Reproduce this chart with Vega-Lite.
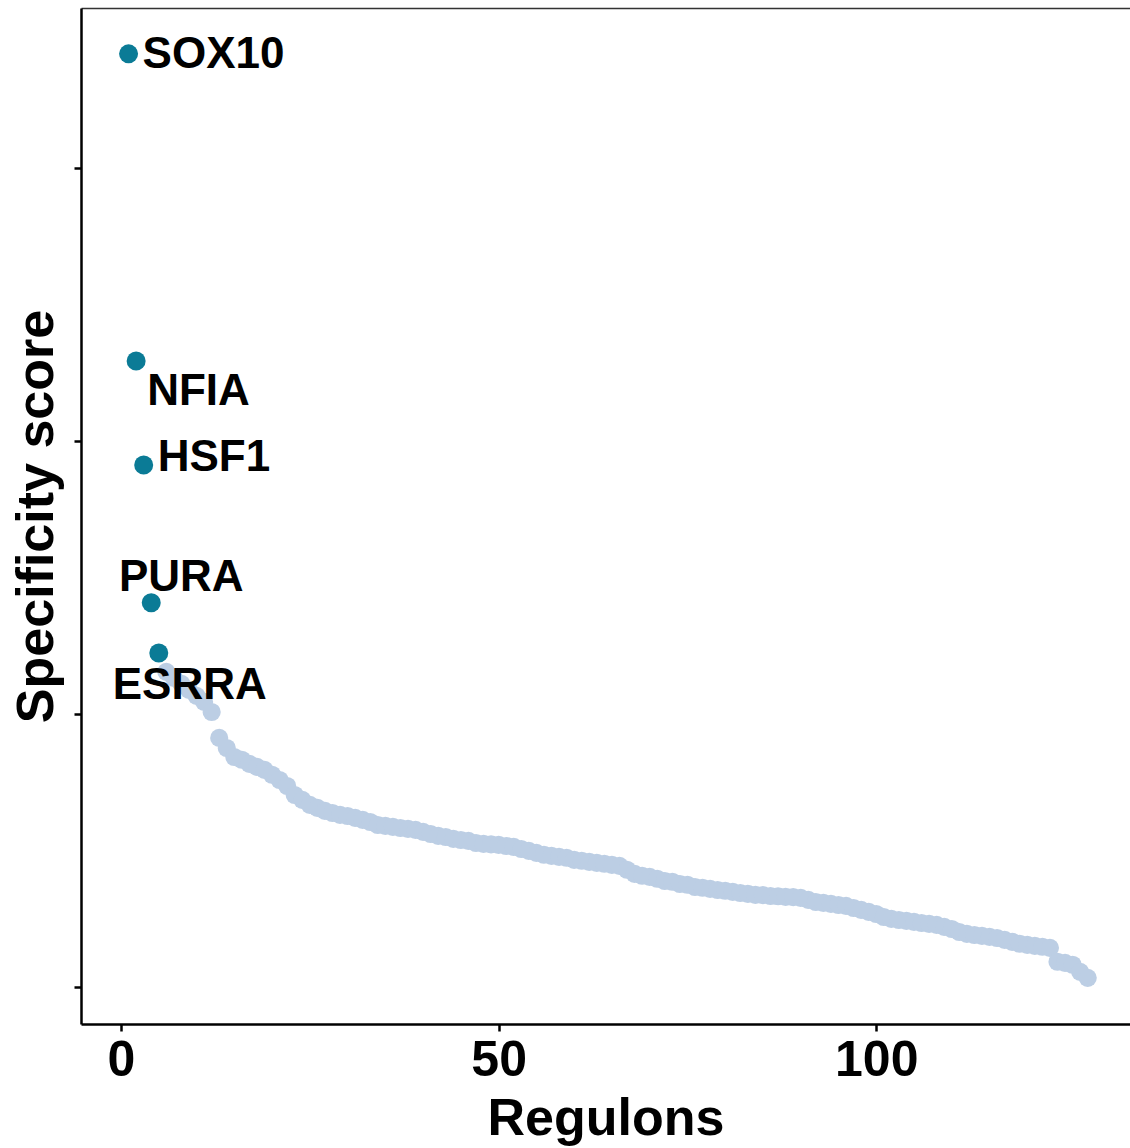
{
  "$schema": "https://vega.github.io/schema/vega-lite/v6.json",
  "autosize": "none",
  "width": 1049,
  "height": 1016,
  "padding": {"left": 81, "top": 8, "right": 0, "bottom": 124},
  "background": "white",
  "config": {
    "font": "Liberation Sans",
    "view": {"stroke": null},
    "axis": {
      "grid": false,
      "domainColor": "black",
      "domainWidth": 2.5,
      "tickColor": "black",
      "tickWidth": 2.5,
      "tickSize": 7,
      "labelColor": "black",
      "labelFont": "Liberation Sans",
      "labelFontWeight": "bold",
      "labelFontSize": 50,
      "titleFont": "Liberation Sans",
      "titleFontWeight": "bold",
      "titleFontSize": 52,
      "titleColor": "black"
    }
  },
  "data": {
    "values": [
      {"rank": 1, "score": 0.5418, "regulon": "SOX10", "top": true},
      {"rank": 2, "score": 0.4293, "regulon": "NFIA", "top": true},
      {"rank": 3, "score": 0.3912, "regulon": "HSF1", "top": true},
      {"rank": 4, "score": 0.3407, "regulon": "PURA", "top": true},
      {"rank": 5, "score": 0.3223, "regulon": "ESRRA", "top": true},
      {"rank": 6, "score": 0.3154, "top": false},
      {"rank": 7, "score": 0.3132, "top": false},
      {"rank": 8, "score": 0.3110, "top": false},
      {"rank": 9, "score": 0.3088, "top": false},
      {"rank": 10, "score": 0.3066, "top": false},
      {"rank": 11, "score": 0.3044, "top": false},
      {"rank": 12, "score": 0.3007, "top": false},
      {"rank": 13, "score": 0.2912, "top": false},
      {"rank": 14, "score": 0.2875, "top": false},
      {"rank": 15, "score": 0.2842, "top": false},
      {"rank": 16, "score": 0.2832, "top": false},
      {"rank": 17, "score": 0.2817, "top": false},
      {"rank": 18, "score": 0.2806, "top": false},
      {"rank": 19, "score": 0.2795, "top": false},
      {"rank": 20, "score": 0.2777, "top": false},
      {"rank": 21, "score": 0.2758, "top": false},
      {"rank": 22, "score": 0.2736, "top": false},
      {"rank": 23, "score": 0.2703, "top": false},
      {"rank": 24, "score": 0.2685, "top": false},
      {"rank": 25, "score": 0.2667, "top": false},
      {"rank": 26, "score": 0.2656, "top": false},
      {"rank": 27, "score": 0.2645, "top": false},
      {"rank": 28, "score": 0.2637, "top": false},
      {"rank": 29, "score": 0.2630, "top": false},
      {"rank": 30, "score": 0.2626, "top": false},
      {"rank": 31, "score": 0.2619, "top": false},
      {"rank": 32, "score": 0.2612, "top": false},
      {"rank": 33, "score": 0.2604, "top": false},
      {"rank": 34, "score": 0.2593, "top": false},
      {"rank": 35, "score": 0.2590, "top": false},
      {"rank": 36, "score": 0.2586, "top": false},
      {"rank": 37, "score": 0.2582, "top": false},
      {"rank": 38, "score": 0.2579, "top": false},
      {"rank": 39, "score": 0.2575, "top": false},
      {"rank": 40, "score": 0.2568, "top": false},
      {"rank": 41, "score": 0.2560, "top": false},
      {"rank": 42, "score": 0.2553, "top": false},
      {"rank": 43, "score": 0.2549, "top": false},
      {"rank": 44, "score": 0.2542, "top": false},
      {"rank": 45, "score": 0.2538, "top": false},
      {"rank": 46, "score": 0.2535, "top": false},
      {"rank": 47, "score": 0.2527, "top": false},
      {"rank": 48, "score": 0.2524, "top": false},
      {"rank": 49, "score": 0.2522, "top": false},
      {"rank": 50, "score": 0.2520, "top": false},
      {"rank": 51, "score": 0.2516, "top": false},
      {"rank": 52, "score": 0.2513, "top": false},
      {"rank": 53, "score": 0.2505, "top": false},
      {"rank": 54, "score": 0.2498, "top": false},
      {"rank": 55, "score": 0.2491, "top": false},
      {"rank": 56, "score": 0.2484, "top": false},
      {"rank": 57, "score": 0.2480, "top": false},
      {"rank": 58, "score": 0.2476, "top": false},
      {"rank": 59, "score": 0.2473, "top": false},
      {"rank": 60, "score": 0.2465, "top": false},
      {"rank": 61, "score": 0.2462, "top": false},
      {"rank": 62, "score": 0.2458, "top": false},
      {"rank": 63, "score": 0.2454, "top": false},
      {"rank": 64, "score": 0.2451, "top": false},
      {"rank": 65, "score": 0.2447, "top": false},
      {"rank": 66, "score": 0.2443, "top": false},
      {"rank": 67, "score": 0.2429, "top": false},
      {"rank": 68, "score": 0.2414, "top": false},
      {"rank": 69, "score": 0.2407, "top": false},
      {"rank": 70, "score": 0.2403, "top": false},
      {"rank": 71, "score": 0.2396, "top": false},
      {"rank": 72, "score": 0.2388, "top": false},
      {"rank": 73, "score": 0.2385, "top": false},
      {"rank": 74, "score": 0.2377, "top": false},
      {"rank": 75, "score": 0.2374, "top": false},
      {"rank": 76, "score": 0.2366, "top": false},
      {"rank": 77, "score": 0.2363, "top": false},
      {"rank": 78, "score": 0.2359, "top": false},
      {"rank": 79, "score": 0.2355, "top": false},
      {"rank": 80, "score": 0.2352, "top": false},
      {"rank": 81, "score": 0.2348, "top": false},
      {"rank": 82, "score": 0.2344, "top": false},
      {"rank": 83, "score": 0.2341, "top": false},
      {"rank": 84, "score": 0.2337, "top": false},
      {"rank": 85, "score": 0.2336, "top": false},
      {"rank": 86, "score": 0.2333, "top": false},
      {"rank": 87, "score": 0.2332, "top": false},
      {"rank": 88, "score": 0.2330, "top": false},
      {"rank": 89, "score": 0.2329, "top": false},
      {"rank": 90, "score": 0.2326, "top": false},
      {"rank": 91, "score": 0.2319, "top": false},
      {"rank": 92, "score": 0.2311, "top": false},
      {"rank": 93, "score": 0.2308, "top": false},
      {"rank": 94, "score": 0.2304, "top": false},
      {"rank": 95, "score": 0.2300, "top": false},
      {"rank": 96, "score": 0.2297, "top": false},
      {"rank": 97, "score": 0.2289, "top": false},
      {"rank": 98, "score": 0.2282, "top": false},
      {"rank": 99, "score": 0.2275, "top": false},
      {"rank": 100, "score": 0.2267, "top": false},
      {"rank": 101, "score": 0.2256, "top": false},
      {"rank": 102, "score": 0.2249, "top": false},
      {"rank": 103, "score": 0.2245, "top": false},
      {"rank": 104, "score": 0.2242, "top": false},
      {"rank": 105, "score": 0.2238, "top": false},
      {"rank": 106, "score": 0.2234, "top": false},
      {"rank": 107, "score": 0.2231, "top": false},
      {"rank": 108, "score": 0.2227, "top": false},
      {"rank": 109, "score": 0.2220, "top": false},
      {"rank": 110, "score": 0.2212, "top": false},
      {"rank": 111, "score": 0.2201, "top": false},
      {"rank": 112, "score": 0.2194, "top": false},
      {"rank": 113, "score": 0.2190, "top": false},
      {"rank": 114, "score": 0.2187, "top": false},
      {"rank": 115, "score": 0.2183, "top": false},
      {"rank": 116, "score": 0.2179, "top": false},
      {"rank": 117, "score": 0.2172, "top": false},
      {"rank": 118, "score": 0.2165, "top": false},
      {"rank": 119, "score": 0.2158, "top": false},
      {"rank": 120, "score": 0.2154, "top": false},
      {"rank": 121, "score": 0.2150, "top": false},
      {"rank": 122, "score": 0.2147, "top": false},
      {"rank": 123, "score": 0.2143, "top": false},
      {"rank": 124, "score": 0.2092, "top": false},
      {"rank": 125, "score": 0.2088, "top": false},
      {"rank": 126, "score": 0.2081, "top": false},
      {"rank": 127, "score": 0.2055, "top": false},
      {"rank": 128, "score": 0.2033, "top": false}
    ]
  },
  "encoding": {
    "y": {
      "field": "score",
      "type": "quantitative",
      "title": "Specificity score",
      "scale": {"domain": [0.1864, 0.5586], "nice": false, "zero": false},
      "axis": {"values": [0.2, 0.3, 0.4, 0.5], "labels": false, "titlePadding": 9}
    }
  },
  "resolve": {"axis": {"x": "independent"}},
  "layer": [
    {
      "mark": {"type": "circle", "size": 300, "opacity": 0},
      "encoding": {
        "x": {
          "field": "rank",
          "type": "quantitative",
          "scale": {"domain": [-5.3, 133.6], "nice": false, "zero": false},
          "axis": {"orient": "top", "labels": false, "ticks": false, "title": null, "domainColor": "#333333", "domainWidth": 1.5}
        }
      }
    },
    {
      "encoding": {
        "x": {
          "field": "rank",
          "type": "quantitative",
          "title": "Regulons",
          "scale": {"domain": [-5.3, 133.6], "nice": false, "zero": false},
          "axis": {"orient": "bottom", "values": [0, 50, 100], "labelPadding": 4, "titlePadding": 8, "labelFlush": false}
        }
      },
      "layer": [
        {
          "transform": [{"filter": "!datum.top"}],
          "mark": {"type": "circle", "size": 330, "opacity": 1, "color": "#bccee4"}
        },
        {
          "transform": [{"filter": "datum.top"}],
          "mark": {"type": "circle", "size": 360, "opacity": 1, "color": "#0b7b96"}
        },
        {
          "transform": [{"filter": "datum.regulon === 'SOX10'"}],
          "mark": {"type": "text", "font": "Liberation Sans", "fontWeight": "bold", "fontSize": 44, "color": "black", "align": "left", "baseline": "middle", "dx": 14, "dy": 1},
          "encoding": {"text": {"field": "regulon"}}
        },
        {
          "transform": [{"filter": "datum.regulon === 'NFIA'"}],
          "mark": {"type": "text", "font": "Liberation Sans", "fontWeight": "bold", "fontSize": 44, "color": "black", "align": "left", "baseline": "middle", "dx": 11, "dy": 31},
          "encoding": {"text": {"field": "regulon"}}
        },
        {
          "transform": [{"filter": "datum.regulon === 'HSF1'"}],
          "mark": {"type": "text", "font": "Liberation Sans", "fontWeight": "bold", "fontSize": 44, "color": "black", "align": "left", "baseline": "middle", "dx": 14, "dy": -7},
          "encoding": {"text": {"field": "regulon"}}
        },
        {
          "transform": [{"filter": "datum.regulon === 'PURA'"}],
          "mark": {"type": "text", "font": "Liberation Sans", "fontWeight": "bold", "fontSize": 44, "color": "black", "align": "center", "baseline": "middle", "dx": 30, "dy": -25},
          "encoding": {"text": {"field": "regulon"}}
        },
        {
          "transform": [{"filter": "datum.regulon === 'ESRRA'"}],
          "mark": {"type": "text", "font": "Liberation Sans", "fontWeight": "bold", "fontSize": 44, "color": "black", "align": "center", "baseline": "middle", "dx": 31, "dy": 33},
          "encoding": {"text": {"field": "regulon"}}
        }
      ]
    }
  ]
}
